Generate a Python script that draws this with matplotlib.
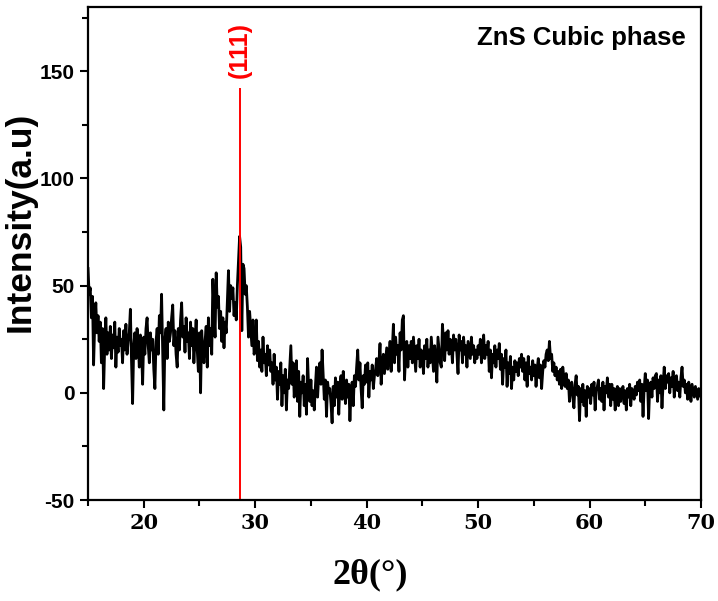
import numpy as np
import matplotlib
matplotlib.use("Agg")
from matplotlib import pyplot as plt
from matplotlib.ticker import MultipleLocator

plt.rcParams['axes.unicode_minus'] = False

# XRD pattern, one row per degree (0.1 deg step)
two_theta_start = 15.0
two_theta_step = 0.1
intensity = [
    58, 46, 49, 35, 45, 13, 32, 42, 28, 36,   # 15
    24, 33, 14, 30, 2, 22, 35, 18, 28, 20,    # 16
    31, 16, 27, 21, 33, 12, 26, 19, 30, 22,   # 17
    25, 14, 29, 20, 32, 18, 24, 28, 39, 15,   # 18
    -5, 22, 28, 16, 30, 24, 12, 27, 20, 4,    # 19
    26, 18, 30, 35, 22, 14, 28, 20, 25, 11,   # 20
    2, 24, 30, 18, 36, 28, 46, 20, -8, 25,    # 21
    30, 16, 33, 24, 28, 35, 41, 22, 29, 18,   # 22
    12, 30, 20, 34, 42, 26, 31, 19, 35, 24,   # 23
    28, 16, 33, 22, 30, 14, 25, 34, 20, 10,   # 24
    28, 0, 29, 20, 14, 24, 31, 12, 35, 22,    # 25
    30, 18, 53, 38, 26, 56, 40, 45, 30, 38,   # 26
    24, 35, 21, 33, 28, 42, 57, 38, 50, 44,   # 27
    49, 36, 42, 34, 50, 62, 73, 68, 29, 60,   # 28
    58, 46, 50, 40, 26, 38, 30, 22, 34, 18,   # 29
    21, 34, 15, 24, 12, 20, 10, 26, 14, 18,   # 30
    8, 22, 13, 20, 10, 14, 4, 18, 6, 12,      # 31
    -3, 10, 4, 14, -6, 8, 0, 11, -8, 6,       # 32
    2, 12, 22, 4, 14, -2, 8, 15, -4, 10,      # 33
    -11, 5, 0, 8, -6, 4, -10, 16, 2, -4,      # 34
    6, -6, 1, -8, 3, 12, -2, 8, 14, 4,        # 35
    20, 9, -3, 6, -11, 5, 0, 2, -5, -14,      # 36
    3, -6, 7, -2, 5, -10, 4, 8, -3, 10,       # 37
    2, -5, 6, -2, 4, -13, 0, 5, -6, 8,        # 38
    3, 12, 20, 6, 14, 2, -7, 8, 4, 13,        # 39
    5, 14, -2, 10, 6, 13, 2, 8, 11, 16,       # 40
    8, 14, 23, 4, 12, 18, 9, 15, 21, 11,      # 41
    16, 24, 10, 20, 32, 14, 26, 18, 22, 10,   # 42
    28, 20, 34, 36, 6, 18, 24, 12, 22, 16,    # 43
    24, 14, 26, 18, 10, 22, 16, 25, 12, 20,   # 44
    18, 9, 22, 16, 25, 12, 20, 14, 26, 18,    # 45
    10, 22, 15, 5, 26, 20, 14, 12, 32, 24,    # 46
    15, 28, 20, 29, 18, 25, 22, 14, 27, 20,   # 47
    25, 18, 9, 27, 20, 24, 14, 26, 18, 22,    # 48
    12, 24, 20, 16, 26, 18, 22, 14, 20, 16,   # 49
    22, 18, 25, 14, 20, 27, 16, 22, 18, 24,   # 50
    10, 20, 7, 18, 14, 22, 12, 20, 16, 23,    # 51
    11, 18, 4, 16, 12, 20, 3, 14, 9, 17,      # 52
    2, 12, 6, 15, 10, 14, 8, 16, 12, 18,      # 53
    10, 16, 6, 14, 3, 17, 9, 12, 6, 15,       # 54
    8, 13, 3, 11, 16, 7, 13, 2, 10, 15,       # 55
    12, 18, 20, 15, 24, 16, 18, 10, 14, 8,    # 56
    12, 6, 10, 4, 11, 2, 12, 7, 3, 9,         # 57
    2, 6, -4, 3, 5, -2, -7, 4, 8, -1,         # 58
    3, -13, 2, -4, 4, -6, 1, -11, 3, -2,      # 59
    2, -5, 4, -1, 5, -8, 1, 3, 6, -3,         # 60
    2, -4, 5, -8, 3, 0, 7, -2, 4, -6,         # 61
    4, -3, 2, -8, 1, 3, -6, 2, -4, 0,         # 62
    3, -5, 1, -8, 2, -2, 4, -6, 2, 0,         # 63
    -3, 3, -1, 5, 1, 6, -4, 4, -11, 2,        # 64
    9, 1, 6, -12, 3, 5, -2, 7, 2, 8,          # 65
    9, -4, 6, 0, 8, -7, 4, 12, 2, 8,          # 66
    5, 9, 0, 7, 3, 10, -2, 6, 8, 1,           # 67
    5, -2, 7, 12, 3, 6, 0, 4, -3, 5,          # 68
    2, -4, 4, 1, -2, 3, 0, -3, 2, -1,         # 69
    -2,                                       # 70
]
two_theta = two_theta_start + two_theta_step * np.arange(len(intensity))

peak_pos = 28.6
peak_top = 142
peak_label = "(111)"
phase_label = "ZnS Cubic phase"

fig = plt.figure(figsize=(7.18, 6.01), dpi=100)
ax = fig.add_axes([0.1226, 0.168, 0.8537, 0.8204])

ax.plot(two_theta, intensity, color="black", lw=2.0)
ax.vlines(peak_pos, -50, peak_top, color="red", lw=1.4)
ax.text(peak_pos, 160, peak_label, color="red", rotation=90, ha="center",
        va="center", fontsize=18, fontweight="bold", family="Liberation Sans")
ax.text(0.975, 0.937, phase_label, transform=ax.transAxes, ha="right",
        va="center", fontsize=18.5, fontweight="bold", family="Liberation Sans")

ax.set_xlim(15, 70)
ax.set_ylim(-50, 180)
ax.xaxis.set_major_locator(MultipleLocator(10))
ax.xaxis.set_minor_locator(MultipleLocator(5))
ax.yaxis.set_major_locator(MultipleLocator(50))
ax.yaxis.set_minor_locator(MultipleLocator(25))
ax.tick_params(which="both", direction="out", width=1.5, top=False, right=False)
ax.tick_params(which="major", length=6)
ax.tick_params(which="minor", length=4)
for s in ax.spines.values():
    s.set_linewidth(1.6)

for lab in ax.get_yticklabels():
    lab.set_family("Liberation Sans")
    lab.set_fontweight("bold")
    lab.set_fontsize(15)
for lab in ax.get_xticklabels():
    lab.set_family("DejaVu Serif")
    lab.set_fontweight("bold")
    lab.set_fontsize(15)

ax.set_xlabel("2θ(°)", family="Liberation Serif", fontweight="bold", fontsize=26)
ax.xaxis.set_label_coords(0.46, -0.118)
ax.set_ylabel("Intensity(a.u)", family="Liberation Sans", fontweight="bold",
              fontsize=25.5)
ax.yaxis.set_label_coords(-0.084, 0.565)

fig.savefig("out.png", dpi=100)
